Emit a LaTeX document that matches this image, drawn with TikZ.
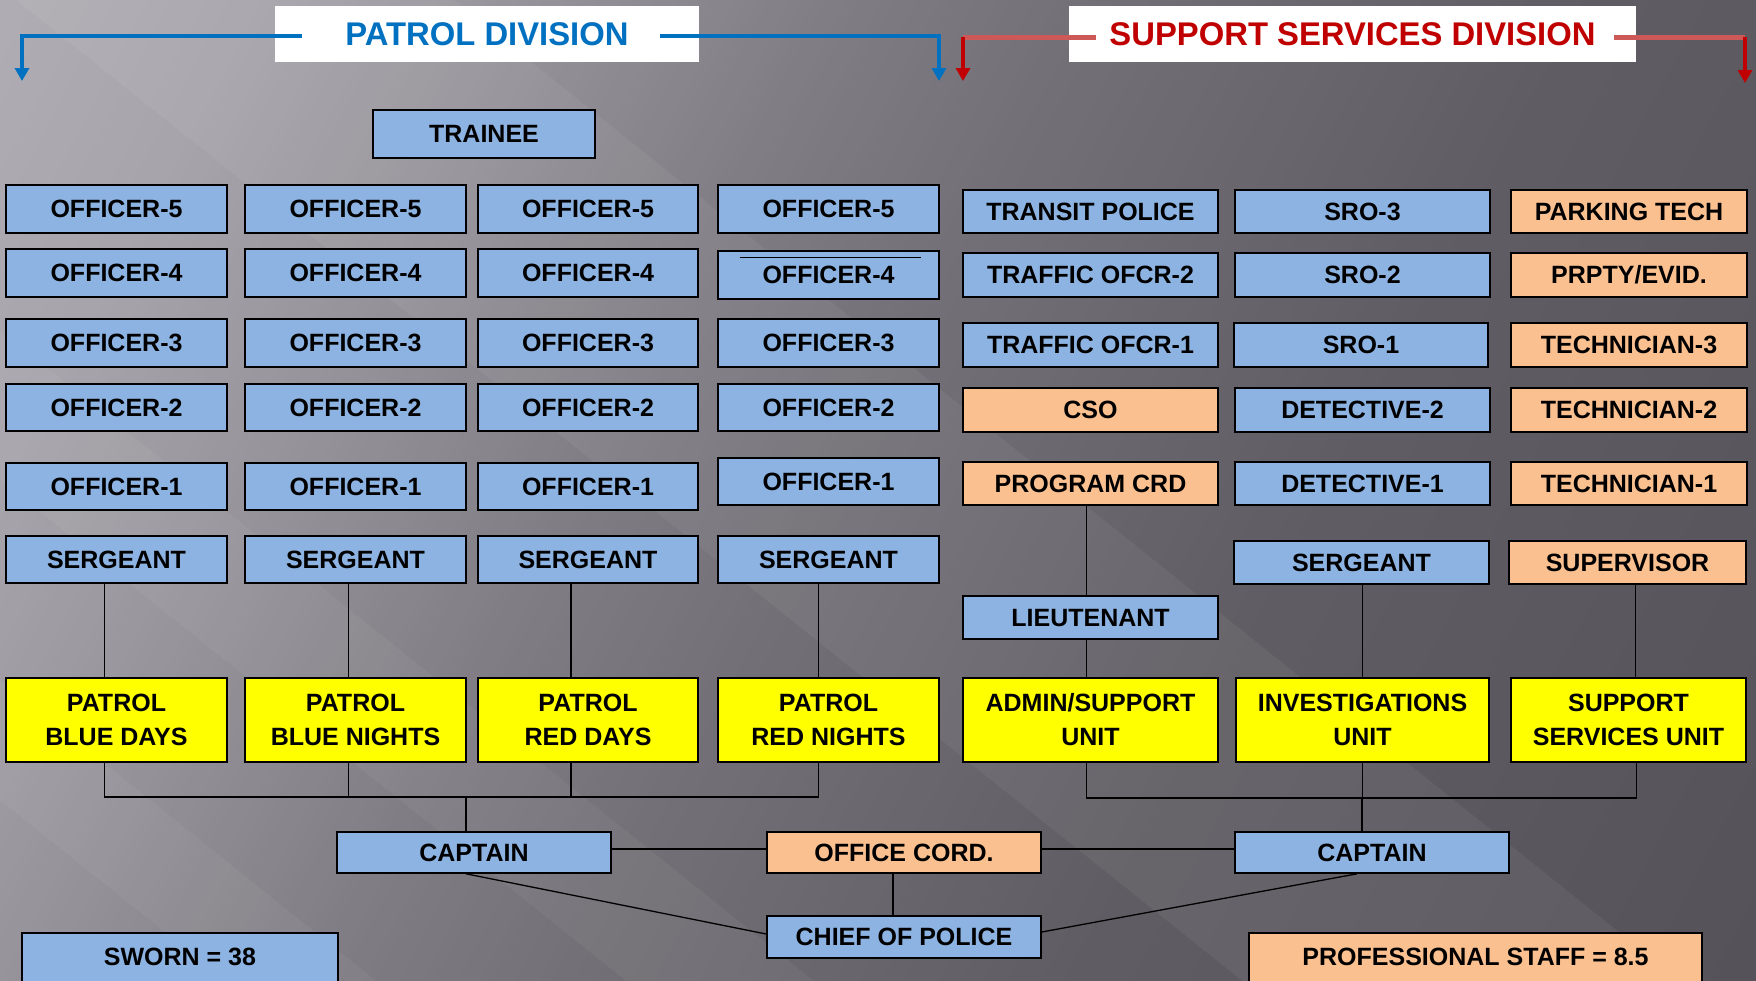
\documentclass[tikz,border=0pt]{standalone}
\usepackage{fontspec}
\setmainfont{Liberation Sans}
\usetikzlibrary{arrows.meta}

\definecolor{rankBlue}{RGB}{141,179,226}
\definecolor{civOrange}{RGB}{250,192,144}
\definecolor{unitYellow}{RGB}{255,255,0}
\definecolor{patrolBlue}{RGB}{0,112,192}
\definecolor{supportRed}{RGB}{192,0,0}
\definecolor{supportRedSoft}{RGB}{204,88,88}

\tikzset{
  orgbox/.style={draw=black, line width=1.6pt, inner sep=0pt,
    font=\fontsize{25}{30}\selectfont\bfseries, text height=17.9pt, text depth=0pt},
  bluebox/.style={orgbox, fill=rankBlue},
  civbox/.style={orgbox, fill=civOrange},
  unitbox/.style={draw=black, line width=1.6pt, inner sep=0pt, fill=unitYellow,
    align=center, font=\fontsize{25}{34}\selectfont\bfseries},
  headbox/.style={fill=white, inner sep=0pt,
    font=\fontsize{32.8}{36}\selectfont\bfseries, text height=23.5pt, text depth=0pt},
  conn/.style={draw=black, line width=1.3pt},
  patrolbracket/.style={draw=patrolBlue, line width=3.6pt},
  supportbar/.style={draw=supportRedSoft, line width=5pt},
  supportdrop/.style={draw=supportRed, line width=3.4pt},
  droptip/.style={-{Triangle[width=14pt,length=13pt]}},
  sheen/.style={fill=white, draw=none},
}

% box given by its corners: name, style, x1, y1, x2, y2, text
\newcommand\orgnode[7]{%
  \pgfmathsetmacro\orgw{#5-#3}%
  \pgfmathsetmacro\orgh{#6-#4}%
  \node[#2, minimum width=\orgw pt, minimum height=\orgh pt] (#1)
    at ({(#3+#5)/2},{(#4+#6)/2}) {#7};}

% diagonal light band between the lines y = 0.8x + #1 and y = 0.8x + #2
\newcommand\sheenband[3]{%
  \fill[sheen, opacity=#3] (-200,{-160+#1}) -- (2000,{1600+#1}) -- (2000,{1600+#2}) -- (-200,{-160+#2}) -- cycle;}

\begin{document}
\begin{tikzpicture}[x=1pt, y=-1pt]
\useasboundingbox (0,0) rectangle (1756,980);
\clip (0,0) rectangle (1756,980);

% backdrop: grey gradient, light at the upper left, darker towards the right
\foreach \sa/\va/\sb/\vb in {0/176/233/167, 233/167/470/150, 470/150/760/127,
    760/127/966/115, 966/115/1400/96, 1400/96/2200/82}{
  \pgfmathtruncatemacro\nseg{(\sb-\sa)/10}
  \pgfmathsetmacro\dseg{(\sb-\sa)/\nseg}
  \foreach \k in {1,...,\nseg}{
    \pgfmathsetmacro\sone{\sa+(\k-1)*\dseg}
    \pgfmathsetmacro\stwo{\sa+\k*\dseg+1.5}
    \pgfmathtruncatemacro\vr{\va+(\vb-\va)*(\k-0.5)/\nseg}
    \pgfmathtruncatemacro\vg{\vr-3}
    \pgfmathtruncatemacro\vbl{\vr+4}
    \definecolor{stripc}{RGB}{\vr,\vg,\vbl}
    \fill[stripc] ({0.884*\sone+1167.5},{0.467*\sone-2210})
      -- ({0.884*\sone-1167.5},{0.467*\sone+2210})
      -- ({0.884*\stwo-1167.5},{0.467*\stwo+2210})
      -- ({0.884*\stwo+1167.5},{0.467*\stwo-2210}) -- cycle;
  }
}
\sheenband{-363}{-13}{0.05}
\sheenband{330}{480}{0.045}
\sheenband{680}{800}{0.045}

% ---- division headers
\orgnode{patrolhdr}{headbox, text=patrolBlue}{275}{6}{699}{62}{PATROL DIVISION}
\orgnode{supporthdr}{headbox, text=supportRed}{1069}{6}{1636}{62}{SUPPORT SERVICES DIVISION}

\coordinate (pL) at (22,81);
\coordinate (pR) at (939,81);
\draw[patrolbracket, droptip] ([xshift=27pt,yshift=-2pt]patrolhdr.west) -| (pL);
\draw[patrolbracket, droptip] ([xshift=-39pt,yshift=-2pt]patrolhdr.east) -| (pR);

\coordinate (sL) at (963,81);
\coordinate (sR) at (1745,83);
\coordinate (sLtop) at (963,37);
\coordinate (sRtop) at (1745,37);
\draw[supportbar] ([xshift=27pt,yshift=-3pt]supporthdr.west) -- (sLtop);
\draw[supportbar] ([xshift=-22pt,yshift=-3pt]supporthdr.east) -- (sRtop);
\draw[supportdrop, droptip] (sLtop) -- (sL);
\draw[supportdrop, droptip] (sRtop) -- (sR);

% ---- patrol division
\orgnode{trainee}{bluebox}{373}{110}{595}{158}{TRAINEE}

\orgnode{oa5}{bluebox}{6}{185}{227}{233}{OFFICER-5}
\orgnode{ob5}{bluebox}{245}{185}{466}{233}{OFFICER-5}
\orgnode{oc5}{bluebox}{478}{185}{698}{233}{OFFICER-5}
\orgnode{od5}{bluebox}{718}{185}{939}{233}{OFFICER-5}

\orgnode{oa4}{bluebox}{6}{249}{227}{297}{OFFICER-4}
\orgnode{ob4}{bluebox}{245}{249}{466}{297}{OFFICER-4}
\orgnode{oc4}{bluebox}{478}{249}{698}{297}{OFFICER-4}
\orgnode{od4}{bluebox, yshift=-2pt}{718}{249}{939}{297}{OFFICER-4}
\draw[line width=0.8pt] ([shift={(-89pt,-7pt)}]od4.north) -- ([shift={(92pt,-7pt)}]od4.north);

\orgnode{oa3}{bluebox}{6}{319}{227}{367}{OFFICER-3}
\orgnode{ob3}{bluebox}{245}{319}{466}{367}{OFFICER-3}
\orgnode{oc3}{bluebox}{478}{319}{698}{367}{OFFICER-3}
\orgnode{od3}{bluebox}{718}{319}{939}{367}{OFFICER-3}

\orgnode{oa2}{bluebox}{6}{384}{227}{431}{OFFICER-2}
\orgnode{ob2}{bluebox}{245}{384}{466}{431}{OFFICER-2}
\orgnode{oc2}{bluebox}{478}{384}{698}{431}{OFFICER-2}
\orgnode{od2}{bluebox}{718}{384}{939}{431}{OFFICER-2}

\orgnode{oa1}{bluebox}{6}{463}{227}{510}{OFFICER-1}
\orgnode{ob1}{bluebox}{245}{463}{466}{510}{OFFICER-1}
\orgnode{oc1}{bluebox}{478}{463}{698}{510}{OFFICER-1}
\orgnode{od1}{bluebox}{718}{458}{939}{505}{OFFICER-1}

\orgnode{sga}{bluebox}{6}{536}{227}{583}{SERGEANT}
\orgnode{sgb}{bluebox}{245}{536}{466}{583}{SERGEANT}
\orgnode{sgc}{bluebox}{478}{536}{698}{583}{SERGEANT}
\orgnode{sgd}{bluebox}{718}{536}{939}{583}{SERGEANT}

\orgnode{pbd}{unitbox}{6}{678}{227}{762}{PATROL\\BLUE DAYS}
\orgnode{pbn}{unitbox}{245}{678}{466}{762}{PATROL\\BLUE NIGHTS}
\orgnode{prd}{unitbox}{478}{678}{698}{762}{PATROL\\RED DAYS}
\orgnode{prn}{unitbox}{718}{678}{939}{762}{PATROL\\RED NIGHTS}

% ---- support services division
\orgnode{transit}{bluebox}{963}{190}{1218}{233}{TRANSIT POLICE}
\orgnode{sro3}{bluebox}{1235}{190}{1490}{233}{SRO-3}
\orgnode{parking}{civbox}{1511}{190}{1747}{233}{PARKING TECH}

\orgnode{traf2}{bluebox}{963}{253}{1218}{297}{TRAFFIC OFCR-2}
\orgnode{sro2}{bluebox}{1235}{253}{1490}{297}{SRO-2}
\orgnode{evid}{civbox}{1511}{253}{1747}{297}{PRPTY/EVID.}

\orgnode{traf1}{bluebox}{963}{323}{1218}{367}{TRAFFIC OFCR-1}
\orgnode{sro1}{bluebox}{1234}{323}{1488}{367}{SRO-1}
\orgnode{tech3}{civbox}{1511}{323}{1747}{367}{TECHNICIAN-3}

\orgnode{cso}{civbox}{963}{388}{1218}{432}{CSO}
\orgnode{det2}{bluebox}{1235}{388}{1490}{432}{DETECTIVE-2}
\orgnode{tech2}{civbox}{1511}{388}{1747}{432}{TECHNICIAN-2}

\orgnode{progcrd}{civbox}{963}{462}{1218}{505}{PROGRAM CRD}
\orgnode{det1}{bluebox}{1235}{462}{1490}{505}{DETECTIVE-1}
\orgnode{tech1}{civbox}{1511}{462}{1747}{505}{TECHNICIAN-1}

\orgnode{sgs}{bluebox}{1234}{541}{1489}{584}{SERGEANT}
\orgnode{superv}{civbox}{1509}{541}{1746}{584}{SUPERVISOR}
\orgnode{lt}{bluebox}{963}{596}{1218}{639}{LIEUTENANT}

\orgnode{admin}{unitbox}{963}{678}{1218}{762}{ADMIN/SUPPORT\\UNIT}
\orgnode{invest}{unitbox}{1236}{678}{1489}{762}{INVESTIGATIONS\\UNIT}
\orgnode{ssu}{unitbox}{1511}{678}{1746}{762}{SUPPORT\\SERVICES UNIT}

% ---- command
\orgnode{capL}{bluebox}{337}{832}{611}{873}{CAPTAIN}
\orgnode{office}{civbox}{767}{832}{1041}{873}{OFFICE CORD.}
\orgnode{capR}{bluebox}{1235}{832}{1509}{873}{CAPTAIN}
\orgnode{chief}{bluebox}{767}{916}{1041}{958}{CHIEF OF POLICE}

% ---- totals
\orgnode{sworn}{bluebox, text height=0pt}{22}{933}{338}{1000}{}
\node[font=\fontsize{25}{30}\selectfont\bfseries, text height=17.9pt, text depth=0pt, inner sep=0pt]
  (swornlbl) at ([yshift=-24pt]sworn.north) {SWORN = 38};
\orgnode{staff}{civbox, text height=0pt}{1249}{933}{1702}{1000}{}
\node[font=\fontsize{25}{30}\selectfont\bfseries, text height=17.9pt, text depth=0pt, inner sep=0pt]
  (stafflbl) at ([yshift=-24pt]staff.north) {PROFESSIONAL STAFF = 8.5};

% ---- patrol connectors
\draw[conn] ([xshift=-12pt]sga.south) -- ([xshift=-12pt]pbd.north);
\draw[conn] ([xshift=-7pt]sgb.south) -- ([xshift=-7pt]pbn.north);
\draw[conn] ([xshift=-17pt]sgc.south) -- ([xshift=-17pt]prd.north);
\draw[conn] ([xshift=-10pt]sgd.south) -- ([xshift=-10pt]prn.north);

\coordinate (pbar) at (0,797);
\draw[conn] ([xshift=-12pt]pbd.south) -- ([xshift=-12pt]pbd.south |- pbar)
  -- ([xshift=-10pt]prn.south |- pbar) -- ([xshift=-10pt]prn.south);
\draw[conn] ([xshift=-7pt]pbn.south) -- ([xshift=-7pt]pbn.south |- pbar);
\draw[conn] ([xshift=-17pt]prd.south) -- ([xshift=-17pt]prd.south |- pbar);
\draw[conn] ([xshift=-8pt]capL.north) -- ([xshift=-8pt]capL.north |- pbar);

% ---- support connectors
\draw[conn] ([xshift=-4pt]progcrd.south) -- ([xshift=-4pt]lt.north);
\draw[conn] ([xshift=-4pt]lt.south) -- ([xshift=-4pt]admin.north);
\draw[conn] (sgs.south) -- (invest.north |- sgs.south) -- (invest.north);
\draw[conn] ([xshift=8pt]superv.south) -- ([xshift=8pt]superv.south |- ssu.north);

\coordinate (rbar) at (0,798);
\draw[conn] ([xshift=-4pt]admin.south) -- ([xshift=-4pt]admin.south |- rbar)
  -- ([xshift=8pt]ssu.south |- rbar) -- ([xshift=8pt]ssu.south);
\draw[conn] (invest.south) -- (invest.south |- rbar);
\draw[conn] ([xshift=-10pt]capR.north) -- ([xshift=-10pt]capR.north |- rbar);

% ---- command connectors
\draw[conn] ([yshift=3.5pt]capL.east) -- ([yshift=3.5pt]office.west);
\draw[conn] ([yshift=3.5pt]office.east) -- ([yshift=3.5pt]capR.west);
\draw[conn] ([xshift=-11pt]office.south) -- ([xshift=-11pt]chief.north);
\draw[conn] ([xshift=-8pt]capL.south) -- ([yshift=3pt]chief.west);
\draw[conn] ([xshift=-15pt]capR.south) -- ([yshift=5pt]chief.east);
\end{tikzpicture}
\end{document}
